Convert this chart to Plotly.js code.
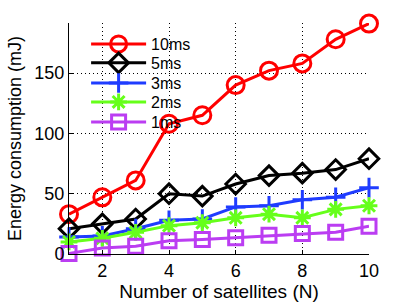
<!DOCTYPE html>
<html>
<head>
<meta charset="utf-8">
<script src="https://cdn.plot.ly/plotly-3.0.1.min.js"></script>
<style>html,body{margin:0;padding:0;background:#fff;}#chart{width:407px;height:306px;}</style>
</head>
<body>
<div id="chart"></div>
<script>
var satellites = [1, 2, 3, 4, 5, 6, 7, 8, 9, 10];
var seriesNames = ['10ms', '5ms', '3ms', '2ms', '1ms'];
var energy10ms = [33, 47, 61, 108, 115, 140, 152, 158, 178, 191];
var energy5ms = [21, 25, 29, 50, 48, 58, 65, 67, 70, 79];
var energy3ms = [14, 15, 21, 28, 29, 39, 40, 45, 47, 55];
var energy2ms = [10, 13, 18, 23.5, 26, 30, 33, 30, 37, 40];
var energy1ms = [0.5, 5, 6.5, 11, 12, 13.5, 15.5, 17, 18, 23];
var xTicks = [2, 4, 6, 8, 10];
var yTicks = [0, 50, 100, 150];

var seriesValues = [energy10ms, energy5ms, energy3ms, energy2ms, energy1ms];
var colors = ['#ff0000', '#000000', '#1f3cff', '#66ff1a', '#bb3df2'];
var symbols = ['circle-open', 'diamond-open', 'cross-thin-open', 'asterisk-open', 'square-open'];
var sizes = [17, 15, 14, 14, 14];
var legendIds = ['legend', 'legend2', 'legend3', 'legend4', 'legend5'];
var legendRowY = [0.909, 0.827, 0.740, 0.658, 0.571];

var traces = seriesValues.map(function (vals, i) {
  return {
    x: satellites,
    y: vals,
    name: seriesNames[i],
    type: 'scatter',
    mode: 'lines+markers',
    cliponaxis: false,
    legend: legendIds[i],
    line: {color: colors[i], width: 3},
    marker: {symbol: symbols[i], size: sizes[i], color: colors[i], line: {color: colors[i], width: 3}}
  };
});

var font = 'Liberation Sans, Arial, Helvetica, sans-serif';
var layout = {
  width: 407,
  height: 306,
  margin: {l: 69, r: 38, t: 23, b: 52, pad: 0},
  paper_bgcolor: '#fff',
  plot_bgcolor: '#fff',
  font: {family: font, size: 18, color: '#000'},
  showlegend: true,
  xaxis: {
    range: [1, 10],
    tickvals: xTicks,
    ticktext: xTicks.map(String),
    showline: true, linecolor: '#000', linewidth: 1, mirror: false,
    ticks: 'inside', ticklen: 4, tickcolor: '#000',
    showgrid: true, gridcolor: '#000', gridwidth: 1, griddash: '1px,3px',
    zeroline: false,
    tickfont: {family: font, size: 18, color: '#000'},
    title: {text: 'Number of satellites (N)', font: {family: font, size: 19, color: '#000'}, standoff: 4}
  },
  yaxis: {
    range: [0, 191.5],
    tickvals: yTicks,
    ticktext: yTicks.map(String),
    showline: true, linecolor: '#000', linewidth: 1, mirror: false,
    ticks: 'inside', ticklen: 4, tickcolor: '#000',
    showgrid: true, gridcolor: '#000', gridwidth: 1, griddash: '1px,3px',
    zeroline: false,
    tickfont: {family: font, size: 18, color: '#000'},
    title: {text: 'Energy consumption (mJ)', font: {family: font, size: 18, color: '#000'}, standoff: 8}
  },
  shapes: [{
    type: 'rect', xref: 'paper', yref: 'paper',
    x0: 0.05, x1: 0.385, y0: 0.525, y1: 0.955,
    fillcolor: '#fff', line: {width: 0}, layer: 'between'
  }]
};

legendIds.forEach(function (id, i) {
  layout[id] = {
    x: 0.057, y: legendRowY[i], xanchor: 'left', yanchor: 'middle',
    bgcolor: 'rgba(0,0,0,0)', borderwidth: 0,
    font: {family: font, size: 16, color: '#000'},
    itemwidth: 55
  };
});

Plotly.newPlot('chart', traces, layout, {displayModeBar: false, staticPlot: true});
</script>
</body>
</html>
